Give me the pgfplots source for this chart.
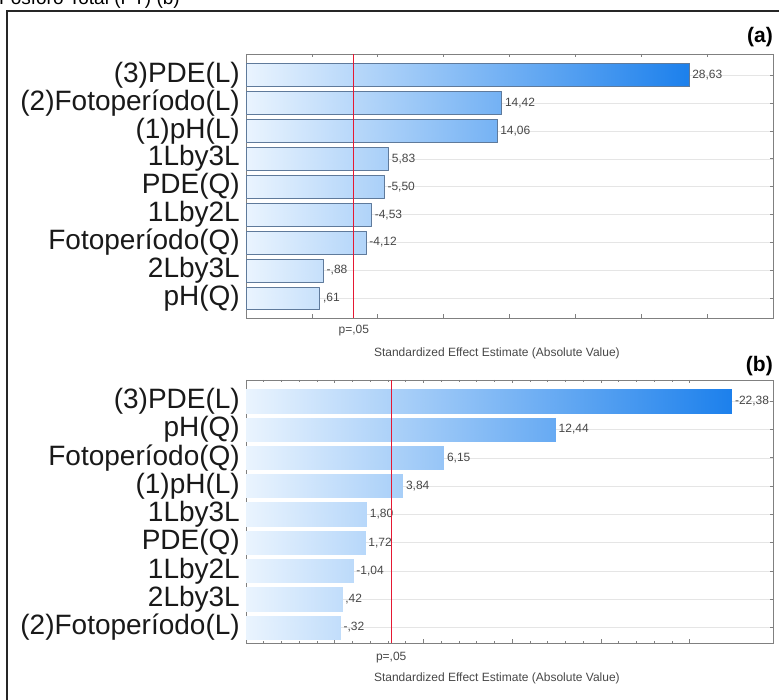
\documentclass[border=0pt]{standalone}
\usepackage{pgfplots}
\pgfplotsset{compat=1.18}
\usepgfplotslibrary{patchplots}
\usepackage{fontspec}
\setmainfont{Liberation Sans}

\definecolor{effedge}{RGB}{95,122,155}
\definecolor{critred}{rgb}{0.9,0.1,0.2}
\definecolor{framegray}{RGB}{128,128,128}

% One Pareto bar as a rectangle patch whose colour follows x:
% #1 lower edge, #2 upper edge, #3 |effect|, #4 row, #5 printed estimate
\newcommand\effbar[5]{%
  \addplot[barstyle] coordinates {(-5,#1) (#3,#1) (#3,#2) (-5,#2)};
  \node[vallabel] at (axis cs:#3,#4) {#5};}

\pgfplotsset{
  pareto/.style={
    scale only axis, width=527pt, anchor=south west, clip=false,
    xmin=-5, ytick={1,...,9}, xticklabels={},
    ymajorgrids, major grid style={black!10, line width=0.5pt},
    axis line style={framegray, line width=0.8pt},
    tick style={framegray, line width=0.6pt}, tick align=inside,
    major tick length=3.5pt, minor tick length=2pt,
    yticklabel style={font=\fontsize{28}{30}\selectfont, inner sep=0pt,
      xshift=-6pt, text=black!90},
    colormap={effmap}{rgb255=(234,244,254) rgb255=(28,128,236)},
    point meta min=-5,
  },
  gradbar/.style={patch, patch type=rectangle, point meta=x},
  critline/.style={color=critred, draw=critred, line width=1.2pt, mark=none},
}
\tikzset{
  vallabel/.style={anchor=west, inner sep=0pt, xshift=3pt,
    font=\fontsize{12}{12}\selectfont, text=black!72},
  smalltext/.style={font=\fontsize{12}{12}\selectfont, text=black!72, inner sep=0pt},
  paneltag/.style={anchor=south east, inner sep=0pt,
    font=\bfseries\fontsize{21}{21}\selectfont},
}

\begin{document}
\begin{tikzpicture}
\useasboundingbox (0pt,0pt) rectangle (779pt,700pt);
\clip (0pt,0pt) rectangle (779pt,700pt);

\node[anchor=base west, inner sep=0pt, font=\fontsize{19}{19}\selectfont]
  at (-1pt,695pt) {Fósforo Total (PT) (b)};
\draw[black!85, line width=1.3pt] (7pt,-10pt) -- (7pt,689pt) -- (800pt,689pt);

% ---------------- panel (a)
\begin{axis}[pareto, at={(246pt,382pt)}, height=264pt,
  xmax=35, xtick={-5,0,...,35}, ymin=0.3, ymax=9.75, point meta max=28.63,
  yticklabels={pH(Q),2Lby3L,Fotoperíodo(Q),1Lby2L,PDE(Q),1Lby3L,(1)pH(L),(2)Fotoperíodo(L),(3)PDE(L)},
  barstyle/.style={gradbar, shader=faceted interp, faceted color=effedge, line width=0.9pt}]
\effbar{8.59}{9.41}{28.63}{9}{28,63}
\effbar{7.59}{8.41}{14.42}{8}{14,42}
\effbar{6.59}{7.41}{14.06}{7}{14,06}
\effbar{5.59}{6.41}{5.83}{6}{5,83}
\effbar{4.59}{5.41}{5.50}{5}{-5,50}
\effbar{3.59}{4.41}{4.53}{4}{-4,53}
\effbar{2.59}{3.41}{4.12}{3}{-4,12}
\effbar{1.59}{2.41}{0.88}{2}{-,88}
\effbar{0.59}{1.41}{0.61}{1}{,61}
% critical value line (t = 3.182)
\addplot[critline] coordinates {(3.182,0.3) (3.182,9.75)};
\node[smalltext, yshift=-13pt] at (axis cs:3.182,0.3) {p=,05};
\node[smalltext, yshift=-35pt] at (rel axis cs:0.476,0)
  {Standardized Effect Estimate (Absolute Value)};
\node[paneltag, yshift=7pt] at (rel axis cs:1,1) {(a)};
\end{axis}

% ---------------- panel (b)
\begin{axis}[pareto, at={(246pt,57pt)}, height=263pt,
  xmax=24.7, xtick={-5,0,...,20}, minor x tick num=4, ymin=0.45, ymax=9.75,
  point meta max=22.38,
  yticklabels={(2)Fotoperíodo(L),2Lby3L,1Lby2L,PDE(Q),1Lby3L,(1)pH(L),Fotoperíodo(Q),pH(Q),(3)PDE(L)},
  barstyle/.style={gradbar, shader=interp}]
\effbar{8.58}{9.42}{22.38}{9}{-22,38}
\effbar{7.58}{8.42}{12.44}{8}{12,44}
\effbar{6.58}{7.42}{6.15}{7}{6,15}
\effbar{5.58}{6.42}{3.84}{6}{3,84}
\effbar{4.58}{5.42}{1.80}{5}{1,80}
\effbar{3.58}{4.42}{1.72}{4}{1,72}
\effbar{2.58}{3.42}{1.04}{3}{-1,04}
\effbar{1.58}{2.42}{0.42}{2}{,42}
\effbar{0.58}{1.42}{0.32}{1}{-,32}
% critical value line (t = 3.182)
\addplot[critline] coordinates {(3.182,0.45) (3.182,9.75)};
\node[smalltext, yshift=-15pt] at (axis cs:3.182,0.45) {p=,05};
\node[smalltext, yshift=-35pt] at (rel axis cs:0.476,0)
  {Standardized Effect Estimate (Absolute Value)};
\node[paneltag, yshift=4pt] at (rel axis cs:1,1) {(b)};
\end{axis}
\end{tikzpicture}
\end{document}
